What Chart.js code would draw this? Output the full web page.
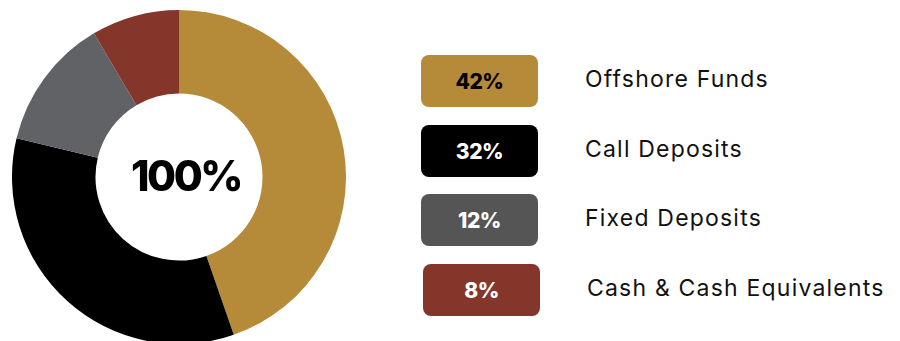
<!DOCTYPE html>
<html>
<head>
<meta charset="utf-8">
<script src="https://cdn.jsdelivr.net/npm/chart.js@4.4.0/dist/chart.umd.min.js"></script>
<style>
    html, body { margin: 0; padding: 0; background: #fff; overflow: hidden; }
    body { width: 900px; height: 341px; position: relative; font-family: "Inter", "Open Sans", sans-serif; }
    #chartWrap { position: absolute; left: 12px; top: 10px; width: 334px; height: 334px; }
    .legend { position: absolute; left: 0; top: 0; }
    .badge {
        position: absolute; left: 421px; width: 117px; height: 52px; border-radius: 8px;
        display: flex; align-items: center; justify-content: center;
        font-weight: 800; font-size: 21px; letter-spacing: -0.5px;
    }
    .label { position: absolute; left: 585px; font-size: 23px; letter-spacing: 1.2px; color: #111; line-height: 52px; white-space: nowrap; }
</style>
</head>
<body>
<div id="chartWrap"><canvas id="allocationChart" width="334" height="334"></canvas></div>
<div class="legend" id="legend"></div>
<script>
const categories = ["Offshore Funds", "Call Deposits", "Fixed Deposits", "Cash & Cash Equivalents"];
const shares = [42, 32, 12, 8];
const totalLabel = "100%";
const sliceColors = ['#B58A38', '#000000', '#616265', '#84362B'];
const badgeColors = ['#B58A38', '#000000', '#555555', '#84362B'];
const badgeTextColors = ['#000000', '#ffffff', '#ffffff', '#ffffff'];
const badgeTops = [55, 125, 194, 264];

document.addEventListener("DOMContentLoaded", function () {
    const canvas = document.getElementById("allocationChart");
    if (!canvas) return;

    // center text inside the hole
    const centerText = {
        id: 'centerText',
        afterDraw(chart) {
            const meta = chart.getDatasetMeta(0).data[0];
            if (!meta) return;
            const ctx = chart.ctx;
            ctx.save();
            ctx.font = "800 42px Inter, sans-serif";
            ctx.letterSpacing = "-2.5px";
            ctx.fillStyle = "#000";
            ctx.textAlign = "center";
            ctx.textBaseline = "middle";
            ctx.fillText(totalLabel, meta.x + 7, meta.y + 1);
            ctx.restore();
        }
    };

    new Chart(canvas.getContext("2d"), {
        type: 'doughnut',
        data: {
            labels: categories,
            datasets: [{
                data: shares,
                backgroundColor: sliceColors,
                borderWidth: 0
            }]
        },
        options: {
            responsive: false,
            animation: false,
            cutout: "50%",
            layout: { padding: 0 },
            plugins: { legend: { display: false }, tooltip: { enabled: false } }
        },
        plugins: [centerText]
    });

    const legend = document.getElementById("legend");
    categories.forEach((name, i) => {
        const badge = document.createElement("div");
        badge.className = "badge";
        badge.style.top = badgeTops[i] + "px";
        badge.style.background = badgeColors[i];
        badge.style.color = badgeTextColors[i];
        if (i === 3) badge.style.left = "423px";
        badge.textContent = shares[i] + "%";
        legend.appendChild(badge);

        const label = document.createElement("div");
        label.className = "label";
        label.style.top = (badgeTops[i] - 2) + "px";
        if (i === 3) label.style.left = "587px";
        label.textContent = name;
        legend.appendChild(label);
    });
});
</script>
</body>
</html>
